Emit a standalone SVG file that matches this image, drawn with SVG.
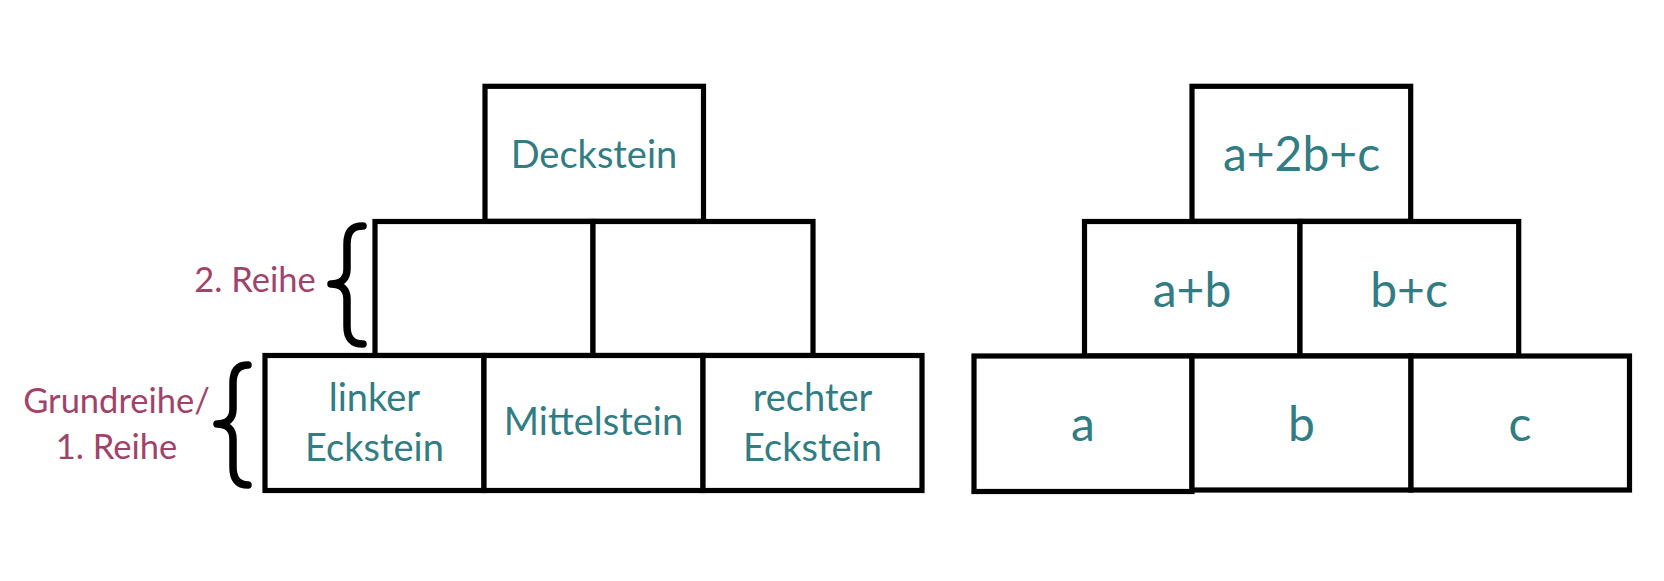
<svg xmlns="http://www.w3.org/2000/svg" width="1664" height="581" viewBox="0 0 1664 581">
<style>
.box{fill:#ffffff;stroke:#000000;stroke-width:5.2}
.lbl{font-family:Lato,"Open Sans","Liberation Sans",sans-serif;fill:#327C84;text-anchor:middle;font-size:38px}
.big{font-size:48px}
.side{font-family:Lato,"Open Sans","Liberation Sans",sans-serif;fill:#A0436A;text-anchor:middle;font-size:34.5px}
.brace{fill:none;stroke:#000000;stroke-width:7.5;stroke-linecap:round;stroke-linejoin:round}
</style>
<rect width="1664" height="581" fill="#ffffff"/>
<g id="connectors"></g>
<g id="left-pyramid">
  <g id="deckstein"><rect class="box" x="485" y="86.3" width="218.5" height="135"/><text class="lbl" x="594" y="168">Deckstein</text></g>
  <g id="reihe2-links"><rect class="box" x="375" y="221.5" width="218" height="134"/></g>
  <g id="reihe2-rechts"><rect class="box" x="593" y="221.5" width="220" height="134"/></g>
  <g id="linker-eckstein"><rect class="box" x="265" y="355.5" width="219" height="135"/><text class="lbl" x="374.5" y="410.7">linker</text><text class="lbl" x="374.5" y="460.7">Eckstein</text></g>
  <g id="mittelstein"><rect class="box" x="484" y="355.5" width="219" height="135"/><text class="lbl" x="593.5" y="435">Mittelstein</text></g>
  <g id="rechter-eckstein"><rect class="box" x="703" y="355.5" width="219" height="135"/><text class="lbl" x="812.5" y="410.7">rechter</text><text class="lbl" x="812.5" y="460.7">Eckstein</text></g>
</g>
<g id="labels">
  <g id="label-reihe2"><text class="side" x="255" y="291.5">2. Reihe</text><path class="brace" d="M363,226 C352,226 347,232 347,244 L347,269 C347,279 341,284 331,284 C341,284 347,289 347,299 L347,326 C347,338 352,344 363,344"/></g>
  <g id="label-reihe1"><text class="side" x="116.5" y="413">Grundreihe/</text><text class="side" x="116.5" y="459">1. Reihe</text><path class="brace" d="M248,365 C238,365 233,371 233,383 L233,409 C233,419 227,424 217,424 C227,424 233,429 233,439 L233,467 C233,479 238,485 248,485"/></g>
</g>
<g id="right-pyramid">
  <g id="top"><rect class="box" x="1192" y="86.3" width="218.7" height="135"/><text class="lbl big" x="1301.5" y="170.7">a+2b+c</text></g>
  <g id="ab"><rect class="box" x="1084.5" y="221.5" width="215.5" height="134.5"/><text class="lbl big" x="1192" y="306.5">a+b</text></g>
  <g id="bc"><rect class="box" x="1300" y="221.5" width="218.7" height="134.5"/><text class="lbl big" x="1409" y="306.5">b+c</text></g>
  <g id="a"><rect class="box" x="974" y="356" width="218" height="135.5"/><text class="lbl big" x="1083" y="440.5">a</text></g>
  <g id="b"><rect class="box" x="1192" y="356" width="219" height="134"/><text class="lbl big" x="1301.5" y="440.5">b</text></g>
  <g id="c"><rect class="box" x="1411" y="356" width="218.5" height="134"/><text class="lbl big" x="1520" y="440.5">c</text></g>
</g>
</svg>
